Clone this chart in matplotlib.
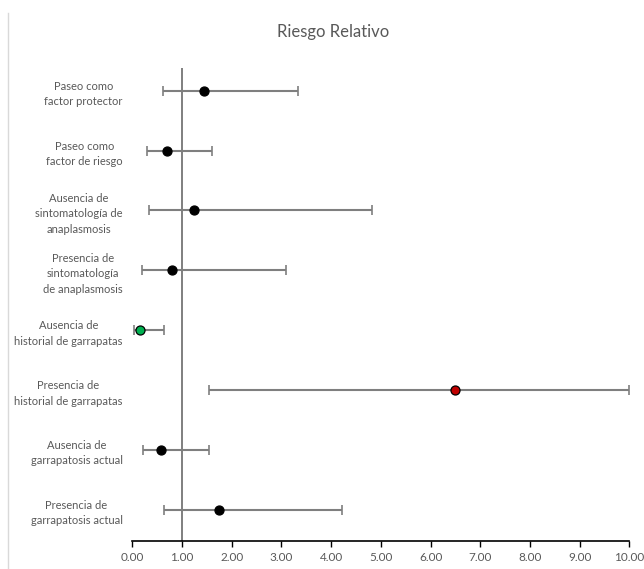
import numpy as np
import matplotlib
matplotlib.use("Agg")
import matplotlib.pyplot as plt
from matplotlib.lines import Line2D

# relative risk per factor (top to bottom), with confidence limits
labels = [
    "Paseo como\nfactor protector",
    "Paseo como\nfactor de riesgo",
    "Ausencia de\nsintomatología de\nanaplasmosis",
    "Presencia de\nsintomatología\nde anaplasmosis",
    "Ausencia de\nhistorial de garrapatas",
    "Presencia de\nhistorial de garrapatas",
    "Ausencia de\ngarrapatosis actual",
    "Presencia de\ngarrapatosis actual",
]
rr = [1.45, 0.70, 1.25, 0.80, 0.15, 6.49, 0.57, 1.74]
ci_low = [0.62, 0.29, 0.34, 0.20, 0.04, 1.55, 0.21, 0.64]
ci_high = [3.33, 1.60, 4.82, 3.09, 0.64, 10.00, 1.54, 4.22]
colors = ["black", "black", "black", "black", "#00b050", "#c00000", "black", "black"]
xticks = [0, 1, 2, 3, 4, 5, 6, 7, 8, 9, 10]

plt.rcParams["font.family"] = ["Lato", "DejaVu Sans"]
text_gray = "#595959"

fig = plt.figure(figsize=(6.44, 5.69), dpi=100)
ax = fig.add_axes([0.2054, 0.0492, 0.772, 0.8313])

ypos = np.arange(len(labels), 0, -1)
rr_arr = np.array(rr)
err = np.vstack([rr_arr - np.array(ci_low), np.array(ci_high) - rr_arr])

ax.axvline(1, color="#7f7f7f", lw=1.4, zorder=1)
ax.errorbar(rr_arr, ypos, xerr=err, fmt="none", ecolor="#7f7f7f",
            elinewidth=1.5, capsize=3.5, capthick=1.2, zorder=2)
for x, y, c in zip(rr_arr, ypos, colors):
    ax.plot(x, y, "o", color=c, markeredgecolor="black", markersize=6.5,
            markeredgewidth=0.9, zorder=3)

ax.set_xlim(0, 10)
ax.set_ylim(0.48, 8.38)
ax.set_xticks(xticks)
ax.set_xticklabels([f"{v:.2f}" for v in xticks])
ax.set_yticks(ypos)
ax.set_yticklabels(labels)
for lab in ax.get_yticklabels():
    lab.set_multialignment("center")
    lab.set_linespacing(1.5)

ax.tick_params(axis="y", length=0, pad=7, labelsize=8, labelcolor=text_gray)
ax.tick_params(axis="x", direction="out", length=4, width=1, pad=4,
               labelsize=8.5, labelcolor=text_gray, color="black")
for side in ["top", "right", "left"]:
    ax.spines[side].set_visible(False)
ax.spines["bottom"].set_color("black")
ax.spines["bottom"].set_linewidth(1.2)

fig.text(0.517, 0.944, "Riesgo Relativo", ha="center", va="center",
         fontsize=12, color=text_gray)

# light border of the original chart area
fig.add_artist(Line2D([8 / 644, 8 / 644], [0, 1 - 13 / 569],
                      transform=fig.transFigure, color="#d9d9d9", lw=1))

fig.savefig("out.png", dpi=100)
